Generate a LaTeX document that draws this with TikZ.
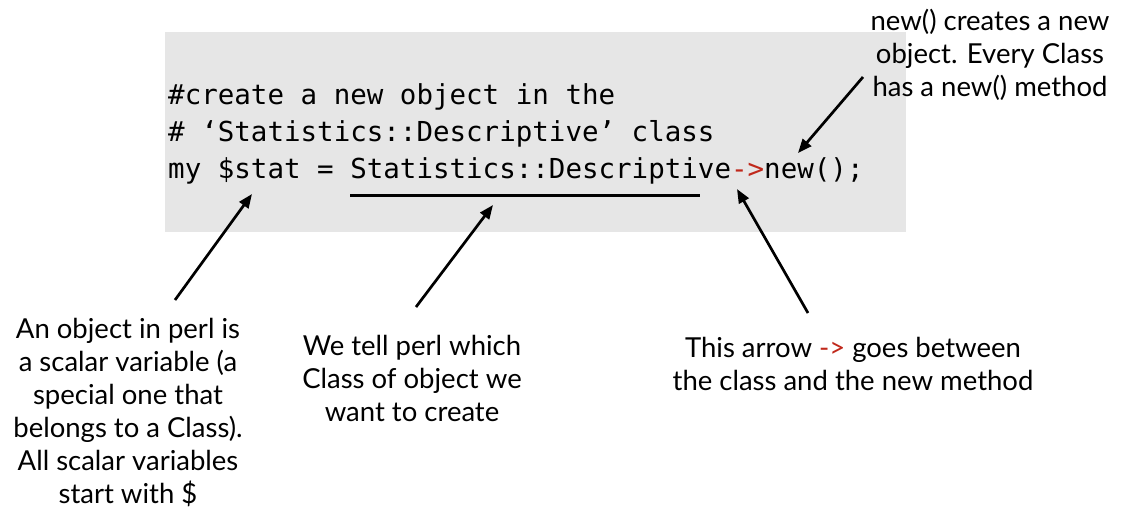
\documentclass[tikz,border=0pt]{standalone}
\usepackage{fontspec}
\setmainfont{Lato}
\setmonofont{DejaVu Sans Mono}
\usetikzlibrary{arrows.meta}
\definecolor{codebg}{HTML}{E6E6E6}
\definecolor{arrred}{HTML}{C0281B}
\tikzset{
  codeline/.style={anchor=base west, inner sep=0pt, font=\fontsize{27.5}{34}\selectfont\ttfamily},
  label/.style={align=center, inner sep=0pt, font=\fontsize{27.5}{33}\selectfont},
  pointer/.style={line width=2.7pt, -{Triangle[length=14pt,width=11pt]}},
}
\begin{document}
\begin{tikzpicture}[x=1pt,y=-1pt]
\useasboundingbox (0,0) rectangle (1122,515);
\fill[codebg] (165,32) rectangle (906,232);
\node[codeline] (c1) at (168,104) {\#create a new object in the};
\node[codeline] (c2) at (168,141) {\# ‘Statistics::Descriptive’ class};
\node[codeline] (c3) at (168,178) {my \$stat = Statistics::Descriptive{\color{arrred}->}new();};
\coordinate (u1) at (350,195);
\coordinate (u2) at (700,195);
\draw[line width=3pt] (u1) -- (u2);

\node[label] (tr) at (990,55) {new() creates a new\\object. Every Class\\has a new() method};
\node[label] (bl) at (128,412) {An object in perl is\\a scalar variable (a\\special one that\\belongs to a Class).\\All scalar variables\\start with \$};
\node[label] (bm) at (412,378) {We tell perl which\\Class of object we\\want to create};
\node[label] (br) at (853,364) {This arrow {\color{arrred}->} goes between\\the class and the new method};

\coordinate (s1) at (175,300); \coordinate (t1) at (252,194);
\coordinate (s2) at (416,307); \coordinate (t2) at (493,205);
\coordinate (s3) at (808,313); \coordinate (t3) at (737,189);
\coordinate (s4) at (863,77);  \coordinate (t4) at (798,153);
\draw[pointer] (s1) -- (t1);
\draw[pointer] (s2) -- (t2);
\draw[pointer] (s3) -- (t3);
\draw[pointer] (s4) -- (t4);
\end{tikzpicture}
\end{document}
